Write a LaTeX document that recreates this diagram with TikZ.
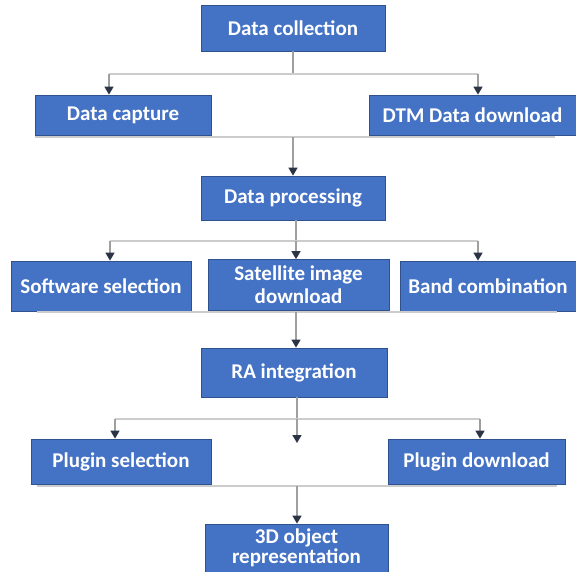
\documentclass[tikz,border=0pt]{standalone}
\usepackage{fontspec}
\setmainfont{Carlito}
\usepackage{tikz}
\usetikzlibrary{arrows.meta}
\usetikzlibrary{positioning}

\definecolor{boxblue}{HTML}{4472C4}
\definecolor{boxedge}{HTML}{2F528F}
\definecolor{tipdark}{HTML}{2B3445}

\begin{document}
\begin{tikzpicture}[x=1pt,y=-1pt]
\tikzset{
    block/.style={
              rectangle,
                   draw=boxedge,
                   fill=boxblue,
                   line width=0.8pt,
                   text=white,
                   font=\bfseries\fontsize{21}{23}\selectfont,
                   align=center,
                   inner sep=0pt
    },
    link/.style={draw=gray!40, line width=2pt},
    stem/.style={draw=gray!75, line width=1.6pt},
    feed/.style={stem, -{Triangle[width=9pt,length=8pt,color=tipdark]}}
}
\useasboundingbox (0,0) rectangle (576,571);

    \node (dcol)[block, minimum width=184pt, minimum height=46pt] at (293,28) {Data collection};
    \node (dcap)[block, minimum width=176pt, minimum height=40pt] at (123,115) {Data capture};
    \node (dtm)[block, minimum width=207pt, minimum height=40pt] at (472.5,115) {DTM Data download};
    \node (dproc)[block, minimum width=184pt, minimum height=44pt] at (293,198) {Data processing};
    \node (soft)[block, minimum width=180pt, minimum height=50pt] at (101,286) {Software selection};
    \node (sat)[block, minimum width=181pt, minimum height=51pt] at (298.5,285) {Satellite image\\download};
    \node (band)[block, minimum width=176pt, minimum height=50pt] at (488,286) {Band combination};
    \node (ra)[block, minimum width=186pt, minimum height=49pt] at (294,372.5) {RA integration};
    \node (psel)[block, minimum width=180pt, minimum height=45pt] at (121,461.5) {Plugin selection};
    \node (pdl)[block, minimum width=177pt, minimum height=45pt] at (476.5,461.5) {Plugin download};
    \node (obj)[block, minimum width=183pt, minimum height=48pt,
                font=\bfseries\fontsize{21}{20}\selectfont] at (296.5,548) {3D object\\representation};

    % junction points
    \coordinate (t1) at (293,74);
    \coordinate (t1l) at (109,74);
    \coordinate (t1r) at (478,74);
    \coordinate (m1l) at (35,137);
    \coordinate (m1r) at (555,137);
    \coordinate (m1) at (293,137);
    \coordinate (t2) at (296,241);
    \coordinate (t2l) at (110,241);
    \coordinate (t2r) at (478,241);
    \coordinate (m2l) at (37,312);
    \coordinate (m2r) at (557,312);
    \coordinate (m2) at (296,312);
    \coordinate (t3) at (297,419);
    \coordinate (t3l) at (115,419);
    \coordinate (t3r) at (480,419);
    \coordinate (t3m) at (297,443);
    \coordinate (m3l) at (37,486);
    \coordinate (m3r) at (557,486);
    \coordinate (m3) at (297,486);

    \draw[stem] (dcol.south) -- (t1);
    \draw[link] (t1l) -- (t1r);
    \draw[feed] (t1l) -- (t1l |- dcap.north);
    \draw[feed] (t1r) -- (t1r |- dtm.north);
    \draw[link] (m1l) -- (m1r);
    \draw[feed] (m1) -- (m1 |- dproc.north);

    \draw[stem] (dproc.south -| t2) -- (t2);
    \draw[link] (t2l) -- (t2r);
    \draw[feed] (t2l) -- (t2l |- soft.north);
    \draw[feed] (t2) -- (t2 |- sat.north);
    \draw[feed] (t2r) -- (t2r |- band.north);
    \draw[link] (m2l) -- (m2r);
    \draw[feed] (m2) -- (m2 |- ra.north);

    \draw[stem] (ra.south -| t3) -- (t3);
    \draw[link] (t3l) -- (t3r);
    \draw[feed] (t3l) -- (t3l |- psel.north);
    \draw[feed] (t3) -- (t3m);
    \draw[feed] (t3r) -- (t3r |- pdl.north);
    \draw[link] (m3l) -- (m3r);
    \draw[feed] (m3) -- (m3 |- obj.north);

\end{tikzpicture}
\end{document}
